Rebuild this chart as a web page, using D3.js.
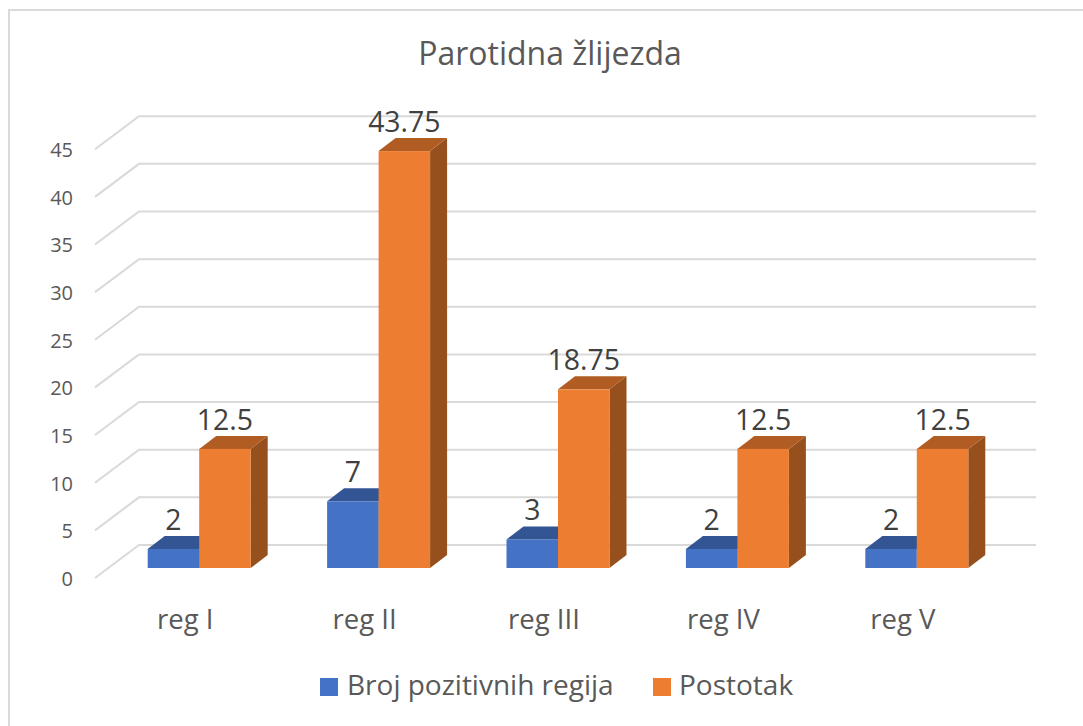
<!DOCTYPE html>
<html>
<head>
<meta charset="utf-8">
<script src="https://cdn.jsdelivr.net/npm/d3@7"></script>
<style>
  html, body { margin: 0; background: #fff; }
  text { font-family: "Open Sans", sans-serif; }
</style>
</head>
<body>
<svg id="chart" width="1083" height="726"></svg>
<script>
const title = "Parotidna žlijezda";
const categories = ["reg I", "reg II", "reg III", "reg IV", "reg V"];
const seriesNames = ["Broj pozitivnih regija", "Postotak"];
const brojValues = [2, 7, 3, 2, 2];
const postotakValues = [12.5, 43.75, 18.75, 12.5, 12.5];
const yTicks = [0, 5, 10, 15, 20, 25, 30, 35, 40, 45];

const colors = ["#4472c4", "#ed7d31"];
const topColors = ["#335593", "#b15c22"];
const sideColors = ["#2c4a80", "#96501d"];
const depthX = 17;
const depthY = 13;

const svg = d3.select("#chart");

// chart frame, only the top and left edges show in the picture
svg.append("path")
  .attr("fill", "none")
  .attr("stroke", "#d9d9d9")
  .attr("stroke-width", 2)
  .attr("d", "M9,726V10H1083");

svg.append("text")
  .attr("x", 550).attr("y", 65)
  .attr("text-anchor", "middle")
  .attr("font-size", 32)
  .attr("fill", "#595959")
  .text(title);

// y is the front plane of the bars, the floor sits at 568
let y = d3.scaleLinear().domain([0, 45]).range([568, 139.2]);
let x0 = d3.scaleBand().domain(categories).range([109.5, 1006.5]).paddingInner(0.426).paddingOuter(0.213);
let x1 = d3.scaleBand().domain(seriesNames).range([0, x0.bandwidth()]);

// gridlines, back wall and the slanted floor part
const backX = 139, frontX = 95, backRight = 1036, gridDrop = 10, backRise = 23;
let grid = svg.append("g");
grid.selectAll("path")
  .data(yTicks)
  .join("path")
  .attr("fill", "none")
  .attr("stroke", "#d9d9d9")
  .attr("stroke-width", 2)
  .attr("d", d => {
    let p = d3.path();
    p.moveTo(frontX, y(d) + gridDrop);
    p.lineTo(backX, y(d) - backRise);
    p.lineTo(backRight, y(d) - backRise);
    return p.toString();
  });

// tick labels, one per gridline
svg.append("g").selectAll("text")
  .data(yTicks)
  .join("text")
  .attr("x", 73)
  .attr("y", d => y(d) + 18)
  .attr("text-anchor", "end")
  .attr("font-size", 20)
  .attr("fill", "#595959")
  .text(d => d);

// category labels
svg.append("g").selectAll("text")
  .data(categories)
  .join("text")
  .attr("x", d => x0(d) + x0.bandwidth() / 2 - 14)
  .attr("y", 629)
  .attr("text-anchor", "middle")
  .attr("font-size", 27.5)
  .attr("fill", "#595959")
  .text(d => d);

function drawSeries(values, s) {
  let name = seriesNames[s];
  let g = svg.append("g");
  categories.forEach((c, i) => {
    let left = x0(c) + x1(name);
    let right = left + x1.bandwidth();
    let top = y(values[i]);
    let bottom = y(0);
    // side face
    g.append("path")
      .attr("fill", sideColors[s])
      .attr("d", d3.line()([[right, top], [right + depthX, top - depthY], [right + depthX, bottom - depthY], [right, bottom]]));
    // top face
    g.append("path")
      .attr("fill", topColors[s])
      .attr("d", d3.line()([[left, top], [left + depthX, top - depthY], [right + depthX, top - depthY], [right, top]]));
    // front face
    g.append("rect")
      .attr("x", left).attr("y", top)
      .attr("width", x1.bandwidth()).attr("height", bottom - top)
      .attr("fill", colors[s]);
    // value label
    g.append("text")
      .attr("x", left + x1.bandwidth() / 2)
      .attr("y", top - 19)
      .attr("text-anchor", "middle")
      .attr("font-size", 28.4)
      .attr("fill", "#404040")
      .text(values[i]);
  });
}
drawSeries(brojValues, 0);
drawSeries(postotakValues, 1);

// legend
const legendX = [320, 653], legendText = [347, 679];
let legend = svg.append("g");
seriesNames.forEach((n, i) => {
  legend.append("rect")
    .attr("x", legendX[i]).attr("y", 678)
    .attr("width", 18).attr("height", 18)
    .attr("fill", colors[i]);
  legend.append("text")
    .attr("x", legendText[i]).attr("y", 695)
    .attr("font-size", 28)
    .attr("fill", "#595959")
    .text(n);
});
</script>
</body>
</html>
